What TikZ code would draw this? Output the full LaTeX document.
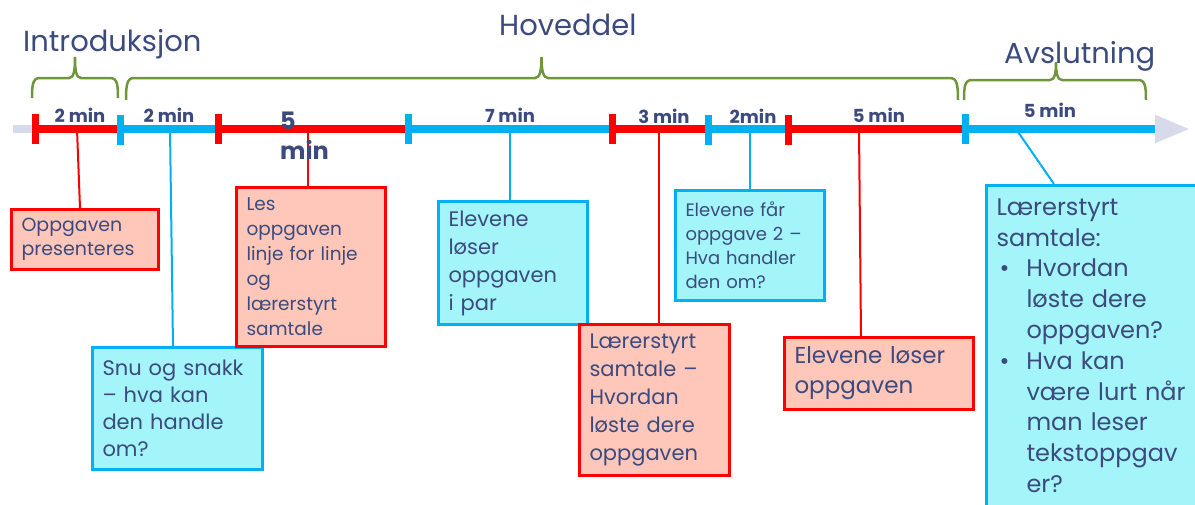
\documentclass[tikz,border=0pt]{standalone}
\usepackage{fontspec}
\setmainfont{Poppins}
\usetikzlibrary{positioning,arrows.meta,calc}

\definecolor{rod}{RGB}{255,0,0}
\definecolor{blaa}{RGB}{0,176,240}
\definecolor{rodfyll}{RGB}{255,199,186}
\definecolor{blaafyll}{RGB}{163,245,250}
\definecolor{tekst}{RGB}{60,74,125}
\definecolor{gronn}{RGB}{112,150,60}
\definecolor{akse}{RGB}{214,218,234}

\tikzset{
  boks/.style={line width=3pt, anchor=north west, align=left, text=tekst,
    inner xsep=10pt, inner ysep=6pt},
  rodboks/.style={boks, draw=rod, fill=rodfyll},
  blaaboks/.style={boks, draw=blaa, fill=blaafyll},
  rodstrek/.style={draw=rod, line width=2pt},
  blaastrek/.style={draw=blaa, line width=2pt},
  rodlinje/.style={draw=rod, line width=8pt},
  blaalinje/.style={draw=blaa, line width=8pt},
  rodmerke/.style={draw=rod, line width=7pt},
  blaamerke/.style={draw=blaa, line width=7pt},
  tid/.style={text=tekst, inner sep=0pt, font=\fontsize{18}{20}\selectfont\bfseries},
  del/.style={text=tekst, anchor=base west, inner sep=0pt, font=\fontsize{29}{32}\selectfont},
  klamme/.style={draw=gronn, line width=2.5pt},
}

\begin{document}
\begin{tikzpicture}[x=1pt, y=-1pt]

  \clip (0,0) rectangle (1195,504);

  % tidslinje
  \coordinate (start) at (13,129);
  \coordinate (slutt) at (1190,129);
  \coordinate (m0) at (35,129);
  \coordinate (m1) at (120,129);
  \coordinate (m2) at (218,129);
  \coordinate (m3) at (408,129);
  \coordinate (m4) at (612,129);
  \coordinate (m5) at (708,129);
  \coordinate (m6) at (788,129);
  \coordinate (m7) at (965,129);
  \coordinate (m8) at (1155,129);

  % punkter for strekene
  \coordinate (t1) at (77,129);
  \coordinate (t2) at (170,129);
  \coordinate (t3) at (308,129);
  \coordinate (t4) at (510,129);
  \coordinate (t5) at (659,129);
  \coordinate (t6) at (750,129);
  \coordinate (t7) at (859,129);
  \coordinate (t8) at (1016,129);

  % bokser
  \node[rodboks, text width=127pt, minimum height=60pt,
    font=\fontsize{19}{24}\selectfont] (b1) at (10,208)
    {Oppgaven\\presenteres};
  \node[blaaboks, text width=150pt, minimum height=122pt,
    font=\fontsize{21}{27}\selectfont] (b2) at (91,346)
    {Snu og snakk\\– hva kan\\den handle\\om?};
  \node[rodboks, text width=129pt, minimum height=159pt,
    font=\fontsize{18.5}{25}\selectfont] (b3) at (235,186)
    {Les\\oppgaven\\linje for linje\\og\\lærerstyrt\\samtale};
  \node[blaaboks, text width=129pt, minimum height=123pt,
    font=\fontsize{21}{28}\selectfont] (b4) at (437,200)
    {Elevene\\løser\\oppgaven\\i par};
  \node[rodboks, text width=130pt, minimum height=151pt,
    font=\fontsize{21}{28}\selectfont] (b5) at (578,323)
    {Lærerstyrt\\samtale –\\Hvordan\\løste dere\\oppgaven};
  \node[blaaboks, text width=129pt, minimum height=110pt,
    font=\fontsize{18}{24}\selectfont] (b6) at (674,189)
    {Elevene får\\oppgave 2 –\\Hva handler\\den om?};
  \node[rodboks, text width=169pt, minimum height=72pt,
    font=\fontsize{23}{30}\selectfont] (b7) at (783,336)
    {Elevene løser\\oppgaven};
  \node[blaaboks, text width=190pt, inner ysep=13pt,
    font=\fontsize{24}{30.8}\selectfont] (b8) at (985,184)
    {Lærerstyrt\\samtale:\\
     \makebox[30pt][l]{\hspace{3pt}\textbullet}Hvordan\\
     \hspace*{30pt}løste dere\\
     \hspace*{30pt}oppgaven?\\
     \makebox[30pt][l]{\hspace{3pt}\textbullet}Hva kan\\
     \hspace*{30pt}være lurt når\\
     \hspace*{30pt}man leser\\
     \hspace*{30pt}tekstoppgav\\
     \hspace*{30pt}er?\\
     ~};

  % streker fra tidslinjen
  \draw[rodstrek] (t1) -- ([xshift=3pt]t1 |- b1.north);
  \draw[blaastrek] (t2) -- ([xshift=3pt]t2 |- b2.north);
  \draw[rodstrek] (t3) -- (t3 |- b3.north);
  \draw[blaastrek] (t4) -- (t4 |- b4.north);
  \draw[rodstrek] (t5) -- (t5 |- b5.north);
  \draw[blaastrek] (t6) -- (t6 |- b6.north);
  \draw[rodstrek] (t7) -- ([xshift=2pt]t7 |- b7.north);
  \draw[blaastrek] (t8) -- ([xshift=69pt]b8.north west);

  % pil og fargede deler
  \draw[akse, line width=8pt, -{Triangle[length=35pt,width=26pt]}] (start) -- (slutt);
  \draw[rodlinje] (m0) -- (m1);
  \draw[blaalinje] (m1) -- (m2);
  \draw[rodlinje] (m2) -- (m3);
  \draw[blaalinje] (m3) -- (m4);
  \draw[rodlinje] (m4) -- (m5);
  \draw[blaalinje] (m5) -- (m6);
  \draw[rodlinje] (m6) -- (m7);
  \draw[blaalinje] (m7) -- (m8);

  \draw[rodmerke] ([yshift=15pt]m0) -- ([yshift=-15pt]m0);
  \draw[blaamerke] ([yshift=14pt]m1) -- ([yshift=-16pt]m1);
  \draw[rodmerke] ([yshift=15pt]m2) -- ([yshift=-15pt]m2);
  \draw[blaamerke] ([yshift=15pt]m3) -- ([yshift=-15pt]m3);
  \draw[rodmerke] ([yshift=15pt]m4) -- ([yshift=-15pt]m4);
  \draw[blaamerke] ([yshift=14pt]m5) -- ([yshift=-16pt]m5);
  \draw[rodmerke] ([yshift=14pt]m6) -- ([yshift=-16pt]m6);
  \draw[blaamerke] ([yshift=15pt]m7) -- ([yshift=-15pt]m7);

  % minutter
  \node[tid] (d1) at (80,115) {2 min};
  \node[tid] (d2) at (169,115) {2 min};
  \node[tid, align=left, anchor=north west,
    font=\fontsize{24}{30}\selectfont\bfseries] (d3) at (280,112) {5\\min};
  \node[tid] (d4) at (510,115) {7 min};
  \node[tid] (d5) at (664,116) {3 min};
  \node[tid] (d6) at (753,116) {2min};
  \node[tid] (d7) at (879,115) {5 min};
  \node[tid] (d8) at (1050,110) {5 min};

  % klammer og overskrifter
  \draw[klamme] (32,98) .. controls (32,84) and (33,78) .. (40,78) -- (69,78)
    .. controls (74,78) and (75,70) .. (75,57) .. controls (75,70) and (76,78) .. (81,78)
    -- (110,78) .. controls (117,78) and (118,84) .. (118,98);
  \draw[klamme] (126,100) .. controls (126,85) and (127,78) .. (134,78) -- (535,78)
    .. controls (540,78) and (541.5,70) .. (541.5,57) .. controls (541.5,70) and (543,78) .. (548,78)
    -- (950,78) .. controls (957,78) and (958,85) .. (958,100);
  \draw[klamme] (964,100) .. controls (964,86) and (965,80) .. (972,80) -- (1050,80)
    .. controls (1055,80) and (1056,72) .. (1056,62) .. controls (1056,72) and (1057,80) .. (1062,80)
    -- (1138,80) .. controls (1145,80) and (1146,86) .. (1146,100);

  \node[del] (h1) at (23,51) {Introduksjon};
  \node[del] (h2) at (499,35) {Hoveddel};
  \node[del] (h3) at (1004,63) {Avslutning};

\end{tikzpicture}
\end{document}
